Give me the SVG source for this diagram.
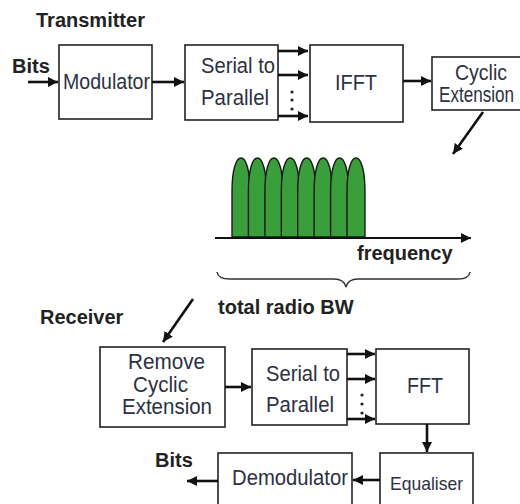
<svg xmlns="http://www.w3.org/2000/svg" width="520" height="504" viewBox="0 0 520 504">
<style>
.box{fill:#fff;stroke:#222;stroke-width:1.6}
.t{font-family:"Liberation Sans",Arial,sans-serif;font-size:21.5px;fill:#2d3142}
.b{font-family:"Liberation Sans",Arial,sans-serif;font-size:20px;font-weight:bold;fill:#222}
.ar{fill:none;stroke:#111;stroke-width:2.6;marker-end:url(#ah)}
.lobe{fill:#3a9f3a;stroke:#1a1a1a;stroke-width:1.4}
.dot{fill:#222}
</style>
<defs>
<marker id="ah" markerUnits="userSpaceOnUse" markerWidth="12" markerHeight="10" refX="10" refY="5" orient="auto">
<path d="M0,0 L10,5 L0,10 Z" fill="#111"/>
</marker>
</defs>
<rect width="520" height="504" fill="#fff"/>

<text class="b" x="36" y="27">Transmitter</text>
<text class="b" x="12" y="73">Bits</text>
<text class="b" x="357" y="260">frequency</text>
<text class="b" x="218" y="314">total radio BW</text>
<text class="b" x="40" y="324">Receiver</text>
<text class="b" x="155" y="467">Bits</text>

<g id="modulator">
<rect class="box" x="59" y="45" width="93" height="74"/>
<text class="t" x="63" y="89" textLength="87" lengthAdjust="spacingAndGlyphs">Modulator</text>
</g>
<g id="s2p-tx">
<rect class="box" x="185" y="45" width="93" height="75"/>
<text class="t" x="201" y="73" textLength="74" lengthAdjust="spacingAndGlyphs">Serial to</text>
<text class="t" x="201" y="105" textLength="68" lengthAdjust="spacingAndGlyphs">Parallel</text>
</g>
<g id="ifft">
<rect class="box" x="310" y="45" width="93" height="77"/>
<text class="t" x="335" y="90" textLength="42" lengthAdjust="spacingAndGlyphs">IFFT</text>
</g>
<g id="cyclic-ext">
<rect class="box" x="432" y="57" width="100" height="53"/>
<text class="t" x="455" y="80" textLength="52" lengthAdjust="spacingAndGlyphs">Cyclic</text>
<text class="t" x="439" y="102" textLength="75" lengthAdjust="spacingAndGlyphs">Extension</text>
</g>

<g id="spectrum">
<path class="lobe" d="M232,237 V192 C232,170 236,158 241,158 C246,158 250,170 250,192 V237 Z"/>
<path class="lobe" d="M248.4,237 V192 C248.4,170 252.4,158 257.4,158 C262.4,158 266.4,170 266.4,192 V237 Z"/>
<path class="lobe" d="M264.9,237 V192 C264.9,170 268.9,158 273.9,158 C278.9,158 282.9,170 282.9,192 V237 Z"/>
<path class="lobe" d="M281.3,237 V192 C281.3,170 285.3,158 290.3,158 C295.3,158 299.3,170 299.3,192 V237 Z"/>
<path class="lobe" d="M297.7,237 V192 C297.7,170 301.7,158 306.7,158 C311.7,158 315.7,170 315.7,192 V237 Z"/>
<path class="lobe" d="M314.1,237 V192 C314.1,170 318.1,158 323.1,158 C328.1,158 332.1,170 332.1,192 V237 Z"/>
<path class="lobe" d="M330.6,237 V192 C330.6,170 334.6,158 339.6,158 C344.6,158 348.6,170 348.6,192 V237 Z"/>
<path class="lobe" d="M347,237 V192 C347,170 351,158 356,158 C361,158 365,170 365,192 V237 Z"/>
<line x1="215" y1="238" x2="471" y2="238" stroke="#111" stroke-width="2" marker-end="url(#ah)"/>
<path d="M217,272 Q218,279 230,279 L334,279 Q344,279 346,287 Q348,279 358,279 L458,279 Q469,279 470,272" fill="none" stroke="#333" stroke-width="1.5"/>
</g>

<g id="remove-cyclic">
<rect class="box" x="100" y="347" width="125" height="80"/>
<text class="t" x="128" y="369" textLength="77" lengthAdjust="spacingAndGlyphs">Remove</text>
<text class="t" x="133" y="392" textLength="55" lengthAdjust="spacingAndGlyphs">Cyclic</text>
<text class="t" x="122" y="414" textLength="90" lengthAdjust="spacingAndGlyphs">Extension</text>
</g>
<g id="s2p-rx">
<rect class="box" x="252" y="349" width="95" height="76"/>
<text class="t" x="266" y="381" textLength="74" lengthAdjust="spacingAndGlyphs">Serial to</text>
<text class="t" x="266" y="412" textLength="68" lengthAdjust="spacingAndGlyphs">Parallel</text>
</g>
<g id="fft">
<rect class="box" x="376" y="349" width="93" height="75"/>
<text class="t" x="407" y="393" textLength="36" lengthAdjust="spacingAndGlyphs">FFT</text>
</g>
<g id="equaliser">
<rect class="box" x="380" y="453" width="93" height="60"/>
<text class="t" x="390" y="490" style="font-size:19px" textLength="73" lengthAdjust="spacingAndGlyphs">Equaliser</text>
</g>
<g id="demodulator">
<rect class="box" x="218" y="453" width="134" height="60"/>
<text class="t" x="232" y="485" textLength="116" lengthAdjust="spacingAndGlyphs">Demodulator</text>
</g>

<g id="connectors">
<line class="ar" x1="28" y1="82" x2="58" y2="82"/>
<line class="ar" x1="152" y1="82" x2="184" y2="82"/>
<line class="ar" x1="278" y1="51" x2="308" y2="51"/>
<line class="ar" x1="278" y1="75" x2="308" y2="75"/>
<line class="ar" x1="278" y1="116" x2="308" y2="116"/>
<circle class="dot" cx="292" cy="92" r="1.6"/>
<circle class="dot" cx="292" cy="100" r="1.6"/>
<circle class="dot" cx="292" cy="109" r="1.6"/>
<line class="ar" x1="403" y1="81" x2="431" y2="81"/>
<line class="ar" x1="483" y1="112" x2="453" y2="154"/>
<line class="ar" x1="193" y1="299" x2="163" y2="342"/>
<line class="ar" x1="225" y1="387" x2="251" y2="387"/>
<line class="ar" x1="347" y1="354" x2="375" y2="354"/>
<line class="ar" x1="347" y1="379" x2="375" y2="379"/>
<line class="ar" x1="347" y1="419" x2="375" y2="419"/>
<circle class="dot" cx="362" cy="395" r="1.6"/>
<circle class="dot" cx="362" cy="404" r="1.6"/>
<circle class="dot" cx="362" cy="413" r="1.6"/>
<line class="ar" x1="427" y1="424" x2="427" y2="452"/>
<line class="ar" x1="380" y1="480" x2="353" y2="480"/>
<line class="ar" x1="218" y1="481" x2="187" y2="481"/>
</g>
</svg>
